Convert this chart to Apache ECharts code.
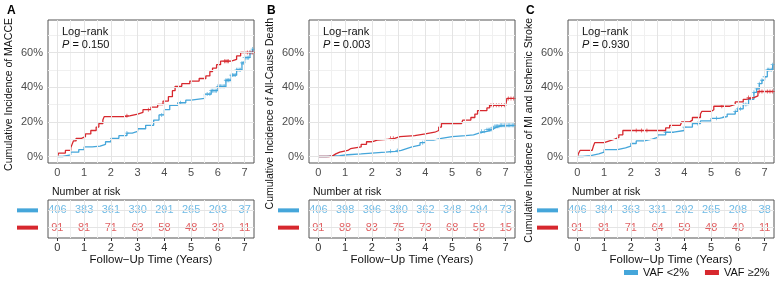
<!DOCTYPE html>
<html>
<head>
<meta charset="utf-8">
<script src="https://cdn.jsdelivr.net/npm/echarts@6/dist/echarts.min.js"></script>
<style>
  html, body { margin: 0; padding: 0; background: #fff; }
  #chart { width: 777px; height: 285px; }
</style>
</head>
<body>
<div id="chart"></div>
<script>
// axis ticks
const years = [0, 1, 2, 3, 4, 5, 6, 7]
const halfYears = [0.5, 1.5, 2.5, 3.5, 4.5, 5.5, 6.5]
const pctTicks = [0, 20, 40, 60]
const pctMinor = [10, 30, 50, 70]

// panel texts
const panelLetters = ['A', 'B', 'C']
const yTitles = ['Cumulative Incidence of MACCE', 'Cumulative Incidence of All-Cause Death', 'Cumulative Incidence of MI and Ischemic Stroke']
const pValues = ['0.150', '0.003', '0.930']
const groupNames = ['VAF <2%', 'VAF \u22652%']

// cumulative incidence (%) step points [years, %]
const curveBlueA = [[0, 0], [0.2, 1], [0.5, 2.5], [0.8, 4], [1.0, 5.5], [1.3, 6], [1.6, 7], [1.8, 8.5], [2.0, 10.5], [2.3, 12], [2.6, 13.5], [2.8, 14.5], [3.0, 16], [3.3, 18], [3.6, 21], [3.8, 24], [4.0, 27], [4.2, 29.5], [4.5, 31], [4.8, 32.5], [5.0, 33.5], [5.5, 36], [5.75, 38], [6.0, 40.5], [6.3, 44], [6.5, 47], [6.7, 50], [6.9, 54], [7.0, 57], [7.2, 60], [7.3, 62]]
const curveRedA = [[0, 0], [0.05, 2], [0.3, 3.5], [0.5, 5], [0.55, 7], [0.6, 9], [0.7, 10.5], [0.9, 11.5], [1.05, 13], [1.25, 15], [1.45, 17], [1.55, 19], [1.7, 21], [1.75, 23], [2.5, 23.5], [2.7, 24.5], [3.0, 25.5], [3.2, 27], [3.5, 28.5], [3.75, 30], [3.95, 32], [4.15, 34.5], [4.3, 38], [4.4, 40.5], [4.65, 42], [4.95, 43.5], [5.3, 45], [5.55, 46.5], [5.7, 49], [5.8, 51], [5.95, 53], [6.1, 55], [6.5, 56], [6.7, 58], [6.85, 60], [7.3, 60]]
const curveBlueB = [[0, 0], [0.3, 0.5], [0.8, 1], [1.1, 1.5], [1.6, 2], [2.0, 2.5], [2.5, 3], [2.9, 3.5], [3.1, 4.5], [3.3, 5.5], [3.5, 6.5], [3.8, 8], [4.0, 9.5], [4.3, 10.5], [4.6, 11.5], [5.0, 12], [5.5, 12.5], [5.8, 13.5], [6.0, 14.5], [6.3, 15.5], [6.5, 16.5], [6.6, 17.5], [6.8, 18], [7.3, 18]]
const curveRedB = [[0, 0], [0.4, 0.5], [0.55, 1.5], [0.65, 2.5], [0.8, 3.5], [1.1, 4.5], [1.2, 5.5], [1.6, 7], [1.8, 8.5], [2.0, 9.5], [2.2, 10], [2.7, 10.5], [2.85, 11.5], [3.05, 12], [3.6, 13], [4.0, 14], [4.35, 15], [4.5, 17], [4.6, 19], [5.35, 19.5], [5.4, 21], [5.7, 22.5], [5.85, 24.5], [5.95, 26.5], [6.3, 28], [6.4, 29.5], [7.0, 29.5], [7.05, 33.5], [7.3, 33.5]]
const curveBlueC = [[0, 0], [0.2, 0.5], [0.5, 1.5], [0.8, 2.5], [1.0, 4], [1.5, 5], [1.8, 6], [2.0, 7.5], [2.2, 9], [2.5, 10], [2.8, 11], [3.0, 12.5], [3.3, 14], [3.6, 15], [4.0, 17], [4.3, 19], [4.6, 20.5], [5.0, 22], [5.3, 23], [5.6, 24.5], [5.9, 26], [6.0, 27.5], [6.2, 30], [6.4, 33], [6.6, 37], [6.7, 39], [6.8, 42], [6.9, 44], [7.0, 46], [7.1, 50], [7.3, 53]]
const curveRedC = [[0, 0], [0.05, 2], [0.1, 3.5], [0.55, 4], [0.6, 6], [0.65, 8], [1.0, 9], [1.2, 10], [1.4, 11], [1.55, 12.5], [1.7, 15], [3.2, 15], [3.3, 16.5], [3.45, 18], [3.85, 18.5], [3.9, 20], [4.2, 21], [4.3, 22.5], [4.6, 24.5], [4.65, 26], [5.0, 27], [5.1, 29], [5.7, 30], [5.9, 31.5], [6.2, 33], [6.3, 34], [6.6, 35], [6.75, 37.5], [7.3, 37.5]]

// censoring times (years)
const censorBlueA = [2.6, 3.9, 4.6, 5.6, 5.7, 5.75, 5.8, 5.85, 5.9, 5.95, 6.0, 6.05, 6.1, 6.15, 6.2, 6.25, 6.3, 6.35, 6.4, 6.45, 6.5, 6.55, 6.6, 6.65, 6.7, 6.75, 6.8, 6.85, 6.9, 6.95, 7.0, 7.05, 7.1, 7.15, 7.2, 7.25, 7.3]
const censorRedA = [2.6, 3.4, 6.25, 6.3, 6.35, 6.4, 7.0, 7.1, 7.2, 7.3]
const censorBlueB = [2.7, 2.95, 3.9, 6.1, 6.2, 6.3, 6.35, 6.4, 6.45, 6.5, 6.55, 6.6, 6.65, 6.7, 6.75, 6.8, 6.85, 6.9, 6.95, 7.0, 7.05, 7.1, 7.15, 7.2, 7.25, 7.3]
const censorRedB = [2.7, 2.8, 6.45, 6.55, 6.65, 6.75, 6.85, 6.95, 7.1, 7.2, 7.3]
const censorBlueC = [3.3, 4.0, 4.5, 5.2, 5.5, 5.9, 6.0, 6.1, 6.2, 6.3, 6.4, 6.5, 6.6, 6.7, 6.8, 6.9, 7.0, 7.1, 7.15, 7.2, 7.25, 7.3]
const censorRedC = [2.2, 2.4, 2.6, 5.4, 6.4, 6.5, 6.8, 6.9, 7.0, 7.1, 7.2, 7.3]

// number at risk at years 0..7
const riskBlueA = [406, 383, 361, 330, 291, 265, 203, 37]
const riskRedA = [91, 81, 71, 63, 58, 48, 39, 11]
const riskBlueB = [406, 398, 396, 380, 362, 348, 294, 73]
const riskRedB = [91, 88, 83, 75, 73, 68, 58, 15]
const riskBlueC = [406, 384, 363, 331, 292, 265, 208, 38]
const riskRedC = [91, 81, 71, 64, 59, 48, 40, 11]

const panels = [
  { blue: curveBlueA, red: curveRedA, cBlue: censorBlueA, cRed: censorRedA, rBlue: riskBlueA, rRed: riskRedA },
  { blue: curveBlueB, red: curveRedB, cBlue: censorBlueB, cRed: censorRedB, rBlue: riskBlueB, rRed: riskRedB },
  { blue: curveBlueC, red: curveRedC, cBlue: censorBlueC, cRed: censorRedC, rBlue: riskBlueC, rRed: riskRedC }
]

const BLUE = '#45A6DA'
const RED = '#D7282E'
const FONT = 'Liberation Sans, Arial, Helvetica, sans-serif'
const plotLeft = [48, 309, 568]
const plotWidth = 206
const PLUS = 'path://M4,0H6V4H10V6H6V10H4V6H0V4H4Z'

function stepAt (curve, t) {
  let v = 0
  curve.forEach(p => { if (p[0] <= t) v = p[1] })
  return v
}

const grids = []
const xAxes = []
const yAxes = []
const series = []
const titles = []
const graphics = []

function gridLineSeries (idx, xMajor, xMinor, yMajor, yMinor) {
  const major = xMajor.map(v => ({ xAxis: v })).concat(yMajor.map(v => ({ yAxis: v })))
  const minor = xMinor.map(v => ({ xAxis: v })).concat(yMinor.map(v => ({ yAxis: v })))
  return [
    { type: 'line', xAxisIndex: idx, yAxisIndex: idx, data: [], z: 1, silent: true,
      markLine: { symbol: 'none', silent: true, label: { show: false }, lineStyle: { color: '#F0F0F0', width: 1, type: 'solid' }, data: minor } },
    { type: 'line', xAxisIndex: idx, yAxisIndex: idx, data: [], z: 1, silent: true,
      markLine: { symbol: 'none', silent: true, label: { show: false }, lineStyle: { color: '#E4E4E4', width: 1, type: 'solid' }, data: major } }
  ]
}

panels.forEach((p, i) => {
  const left = plotLeft[i]
  const pi = i * 2
  const ti = i * 2 + 1

  // survival plot
  grids.push({ left: left, top: 20, width: plotWidth, height: 143, containLabel: false, outerBoundsMode: 'none', show: true, borderColor: '#555', borderWidth: 1, backgroundColor: '#fff', z: 0 })
  xAxes.push({
    gridIndex: pi, type: 'value', min: -0.35, max: 7.35,
    axisLine: { show: false }, splitLine: { show: false },
    axisTick: { show: true, length: 3, lineStyle: { color: '#333' }, customValues: years },
    axisLabel: { customValues: years, margin: 4, fontSize: 11, color: '#4D4D4D', fontFamily: FONT }
  })
  yAxes.push({
    gridIndex: pi, type: 'value', min: -3.75, max: 78.75,
    axisLine: { show: false }, splitLine: { show: false },
    axisTick: { show: true, length: 3, lineStyle: { color: '#333' }, customValues: pctTicks },
    axisLabel: { customValues: pctTicks, margin: 5, fontSize: 11, color: '#4D4D4D', fontFamily: FONT, formatter: v => v + '%' }
  })
  series.push(...gridLineSeries(pi, years, halfYears, pctTicks, pctMinor))
  series.push({
    name: groupNames[0], type: 'line', step: 'end', xAxisIndex: pi, yAxisIndex: pi, data: p.blue,
    showSymbol: false, symbol: 'none', z: 3, itemStyle: { color: BLUE }, lineStyle: { color: BLUE, width: 1.3 }
  })
  series.push({
    name: groupNames[1], type: 'line', step: 'end', xAxisIndex: pi, yAxisIndex: pi, data: p.red,
    showSymbol: false, symbol: 'none', z: 4, itemStyle: { color: RED }, lineStyle: { color: RED, width: 1.3 }
  })
  series.push({
    type: 'scatter', xAxisIndex: pi, yAxisIndex: pi, symbol: PLUS, symbolSize: 4, z: 3, silent: true,
    itemStyle: { color: BLUE }, data: p.cBlue.map(t => [t, stepAt(p.blue, t)])
  })
  series.push({
    type: 'scatter', xAxisIndex: pi, yAxisIndex: pi, symbol: PLUS, symbolSize: 4, z: 4, silent: true,
    itemStyle: { color: RED }, data: p.cRed.map(t => [t, stepAt(p.red, t)])
  })

  // number at risk table
  grids.push({ left: left, top: 200, width: plotWidth, height: 38, containLabel: false, outerBoundsMode: 'none', show: true, borderColor: '#555', borderWidth: 1, backgroundColor: '#fff', z: 0 })
  xAxes.push({
    gridIndex: ti, type: 'value', min: -0.35, max: 7.35,
    axisLine: { show: false }, splitLine: { show: false },
    axisTick: { show: true, length: 3, lineStyle: { color: '#333' }, customValues: years },
    axisLabel: { customValues: years, margin: 4, fontSize: 11, color: '#333', fontFamily: FONT },
    name: 'Follow\u2212Up Time (Years)', nameLocation: 'middle', nameGap: 15,
    nameTextStyle: { fontSize: 11.5, color: '#111', fontFamily: FONT }
  })
  yAxes.push({
    gridIndex: ti, type: 'value', min: 0.4, max: 2.6,
    axisLine: { show: false }, splitLine: { show: false }, axisTick: { show: false },
    axisLabel: {
      customValues: [1, 2], margin: 10,
      formatter: v => v === 2 ? '{b|}' : '{r|}',
      rich: {
        b: { backgroundColor: BLUE, width: 21, height: 4 },
        r: { backgroundColor: RED, width: 21, height: 4 }
      }
    }
  })
  series.push(...gridLineSeries(ti, years, halfYears, [1, 2], []))
  series.push({
    type: 'scatter', xAxisIndex: ti, yAxisIndex: ti, symbolSize: 1, z: 3, silent: true,
    itemStyle: { color: 'transparent' },
    label: { show: true, position: 'inside', color: '#4AA9DE', fontSize: 11, fontFamily: FONT, formatter: d => d.value[2] },
    data: years.map((y, k) => [y, 2, p.rBlue[k]])
  })
  series.push({
    type: 'scatter', xAxisIndex: ti, yAxisIndex: ti, symbolSize: 1, z: 3, silent: true,
    itemStyle: { color: 'transparent' },
    label: { show: true, position: 'inside', color: '#D8383B', fontSize: 11, fontFamily: FONT, formatter: d => d.value[2] },
    data: years.map((y, k) => [y, 1, p.rRed[k]])
  })

  // y axis title, anchored at the top of the panel
  graphics.push({
    type: 'text', x: left - 39, y: 18, rotation: Math.PI / 2, z: 10,
    style: { text: yTitles[i], align: 'right', verticalAlign: 'middle', fill: '#111', font: '10.5px ' + FONT }
  })

  titles.push({
    text: panelLetters[i], left: left - (i === 0 ? 46 : 47), top: 0,
    textStyle: { fontSize: 12, fontWeight: 'bold', color: '#000', fontFamily: FONT }
  })
  titles.push({
    text: 'Log\u2212rank\n{i|P} = ' + pValues[i], left: left + 9, top: 20,
    textStyle: {
      fontSize: 11, fontWeight: 'normal', color: '#111', fontFamily: FONT, lineHeight: 13,
      rich: { i: { fontStyle: 'italic', fontSize: 11, color: '#111', fontFamily: FONT } }
    }
  })
  titles.push({
    text: 'Number at risk', left: left - 1, top: 182,
    textStyle: { fontSize: 10.5, fontWeight: 'normal', color: '#111', fontFamily: FONT }
  })
})

const chart = echarts.init(document.getElementById('chart'))
chart.setOption({
  animation: false,
  backgroundColor: '#fff',
  title: titles,
  graphic: graphics,
  grid: grids,
  xAxis: xAxes,
  yAxis: yAxes,
  legend: {
    data: groupNames, left: 624, top: 267, width: 200, orient: 'horizontal', icon: 'rect', itemWidth: 14, itemHeight: 5, itemGap: 16, padding: 0,
    textStyle: { fontSize: 11, color: '#111', fontFamily: FONT }
  },
  series: series
})
</script>
</body>
</html>
